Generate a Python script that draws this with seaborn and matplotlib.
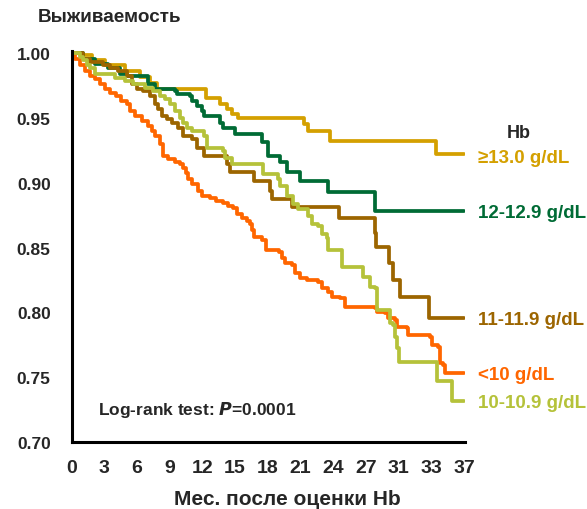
import matplotlib
matplotlib.use("Agg")
import matplotlib.pyplot as plt
import seaborn as sns
import pandas as pd

# ---- data (months, survival) ----
gold_t = [0, 0.78, 1.88, 3.07, 4.91, 6.28, 7.20, 7.84, 12.3, 13.6, 14.3, 14.7, 15.3, 21.3, 21.7, 23.7, 33.4, 36.0]
gold_s = [1.0, 0.9990, 0.9952, 0.9913, 0.9860, 0.9814, 0.9768, 0.9722, 0.9653, 0.9607, 0.9568, 0.9530, 0.9499, 0.9453, 0.9400, 0.9323, 0.9221, 0.9221]

green_t = [0, 1.06, 2.16, 3.35, 4.45, 5.09, 7.02, 7.66, 9.50, 9.68, 10.9, 11.1, 11.5, 12.0, 12.2, 13.6, 13.9, 15.0, 17.5, 18.0, 19.1, 19.8, 21.0, 23.5, 27.8, 36.0]
green_s = [1.0, 0.9959, 0.9921, 0.9883, 0.9844, 0.9821, 0.9760, 0.9722, 0.9706, 0.9683, 0.9668, 0.9630, 0.9591, 0.9553, 0.9515, 0.9463, 0.9425, 0.9379, 0.9315, 0.9208, 0.9162, 0.9087, 0.9016, 0.8926, 0.8786, 0.8786]

brown_t = [0, 1.06, 1.70, 2.89, 3.53, 4.27, 5.09, 5.55, 6.01, 6.56, 7.20, 7.66, 7.94, 8.30, 8.76, 9.22, 9.77, 10.2, 11.1, 11.5, 12.2, 14.3, 14.5, 16.7, 18.2, 18.4, 20.2, 24.5, 27.8, 27.9, 29.1, 29.5, 30.1, 32.8, 36.0]
brown_s = [1.0, 0.9959, 0.9936, 0.9913, 0.9883, 0.9860, 0.9821, 0.9760, 0.9722, 0.9706, 0.9668, 0.9607, 0.9568, 0.9515, 0.9492, 0.9461, 0.9423, 0.9361, 0.9338, 0.9271, 0.9208, 0.9146, 0.9087, 0.9016, 0.8939, 0.8876, 0.8817, 0.8732, 0.8610, 0.8505, 0.8380, 0.8250, 0.8121, 0.7956, 0.7956]

orange_t = [0, 0.32, 0.78, 1.24, 1.70, 2.16, 2.61, 3.07, 3.53, 4.08, 4.54, 5.09, 5.37, 5.83, 6.47, 7.02, 7.39, 7.66, 8.12, 8.39, 8.85, 9.50, 9.95, 10.2, 10.5, 10.7, 11.1, 11.6, 12.0, 12.7, 13.3, 13.9, 14.4, 14.8, 15.2, 15.6, 16.1, 16.4, 16.6, 16.7, 17.5, 17.8, 19.0, 19.3, 19.6, 20.2, 20.5, 21.0, 21.6, 22.6, 23.0, 23.5, 23.9, 24.6, 25.1, 27.8, 28.0, 28.8, 29.0, 29.7, 29.9, 30.8, 30.9, 32.9, 33.1, 33.6, 33.8, 34.1, 34.3, 36.0]
orange_s = [1.0, 0.9959, 0.9913, 0.9860, 0.9821, 0.9798, 0.9760, 0.9722, 0.9691, 0.9668, 0.9630, 0.9607, 0.9553, 0.9515, 0.9477, 0.9438, 0.9400, 0.9362, 0.9300, 0.9208, 0.9185, 0.9162, 0.9147, 0.9116, 0.9078, 0.9032, 0.8993, 0.8939, 0.8901, 0.8886, 0.8863, 0.8847, 0.8824, 0.8809, 0.8763, 0.8732, 0.8709, 0.8686, 0.8634, 0.8580, 0.8557, 0.8479, 0.8464, 0.8418, 0.8380, 0.8364, 0.8303, 0.8265, 0.8249, 0.8234, 0.8188, 0.8157, 0.8119, 0.8111, 0.8042, 0.8034, 0.8004, 0.7996, 0.7958, 0.7942, 0.7889, 0.7881, 0.7827, 0.7812, 0.7751, 0.7735, 0.7613, 0.7597, 0.7536, 0.7536]

olive_t = [0, 0.78, 1.06, 1.42, 1.70, 2.16, 3.07, 3.99, 4.91, 5.64, 6.74, 7.48, 8.12, 8.58, 9.04, 9.50, 9.95, 10.2, 10.6, 11.1, 12.2, 12.4, 13.9, 14.1, 14.7, 17.6, 18.9, 19.1, 19.8, 20.3, 20.8, 21.7, 22.1, 22.6, 23.0, 23.4, 23.5, 24.8, 26.7, 27.4, 27.8, 28.0, 29.2, 29.5, 29.7, 29.9, 30.0, 33.5, 34.9, 36.0]
olive_s = [1.0, 0.9975, 0.9952, 0.9913, 0.9883, 0.9844, 0.9837, 0.9806, 0.9783, 0.9760, 0.9729, 0.9706, 0.9668, 0.9645, 0.9607, 0.9553, 0.9499, 0.9461, 0.9423, 0.9400, 0.9361, 0.9269, 0.9246, 0.9193, 0.9146, 0.9070, 0.9032, 0.8978, 0.8901, 0.8840, 0.8801, 0.8747, 0.8686, 0.8670, 0.8609, 0.8572, 0.8479, 0.8349, 0.8273, 0.8196, 0.8188, 0.8020, 0.7920, 0.7904, 0.7812, 0.7728, 0.7620, 0.7467, 0.7314, 0.7314]

groups = ["≥13.0 g/dL", "12-12.9 g/dL", "11-11.9 g/dL", "<10 g/dL", "10-10.9 g/dL"]
colors = ["#D4A000", "#006B35", "#9C6500", "#FF6600", "#B5C23A"]
label_y = [0.9193, 0.8771, 0.7942, 0.7521, 0.7306]

xtick_pos = [0, 3, 6, 9, 12, 15, 18, 21, 24, 27, 30, 33, 36]
xtick_labels = ["0", "3", "6", "9", "12", "15", "18", "21", "24", "27", "31", "33", "37"]
ytick_vals = [0.70, 0.75, 0.80, 0.85, 0.90, 0.95, 1.00]

series = [(gold_t, gold_s), (green_t, green_s), (brown_t, brown_s), (orange_t, orange_s), (olive_t, olive_s)]
frames = []
for g, (t, s) in zip(groups, series):
    frames.append(pd.DataFrame({"t": t, "s": s, "group": g}))
df = pd.concat(frames, ignore_index=True)

sns.set_style("white")
plt.rcParams['font.family'] = ['Liberation Sans', 'DejaVu Sans']
plt.rcParams['font.weight'] = 'bold'

fig = plt.figure(figsize=(5.87, 5.10), dpi=100)
ax = fig.add_axes([71.5 / 587, 67 / 510, (465 - 71.5) / 587, (443 - 51.7) / 510])

sns.lineplot(data=df, x="t", y="s", hue="group", hue_order=groups,
             palette=dict(zip(groups, colors)), drawstyle="steps-post",
             estimator=None, sort=False, linewidth=2.7, legend=False, ax=ax)

ax.set_xlim(0, 36.1)
ax.set_ylim(0.70, 1.002)
ax.set_xticks(xtick_pos)
ax.set_xticklabels(xtick_labels)
ax.set_yticks(ytick_vals)
ax.set_yticklabels([f"{v:.2f}" for v in ytick_vals])
for sp in ["top", "right"]:
    ax.spines[sp].set_visible(False)
for sp in ["left", "bottom"]:
    ax.spines[sp].set_linewidth(2.2)
    ax.spines[sp].set_color("black")
ax.tick_params(axis="x", direction="out", length=7, width=2.5, color="black",
               labelsize=14, pad=5)
ax.tick_params(axis="y", direction="out", length=9, width=2.5, color="black",
               labelsize=12.5, pad=6)
for lab in ax.get_xticklabels() + ax.get_yticklabels():
    lab.set_fontweight("bold")
ax.set_xlabel("")
ax.set_ylabel("")

fig.text(38 / 587, 1 - 18 / 510, "Выживаемость", fontsize=13.6, fontweight="bold",
         ha="left", va="center")
fig.text(287 / 587, 1 - 500 / 510, "Мес. после оценки Hb", fontsize=15,
         fontweight="bold", ha="center", va="center")

ax.text(41.0, 0.9392, "Hb", fontsize=13, fontweight="bold", ha="center",
        va="center", clip_on=False)
for g, c, y in zip(groups, colors, label_y):
    ax.text(37.3, y, g, color=c, fontsize=13.5, fontweight="bold", ha="left",
            va="center", clip_on=False)

ax.text(2.43, 0.7252, "Log-rank test: $\\bfit{P}$=0.0001", fontsize=12.5,
        fontweight="bold", ha="left", va="center")

fig.savefig("out.png", dpi=100)
